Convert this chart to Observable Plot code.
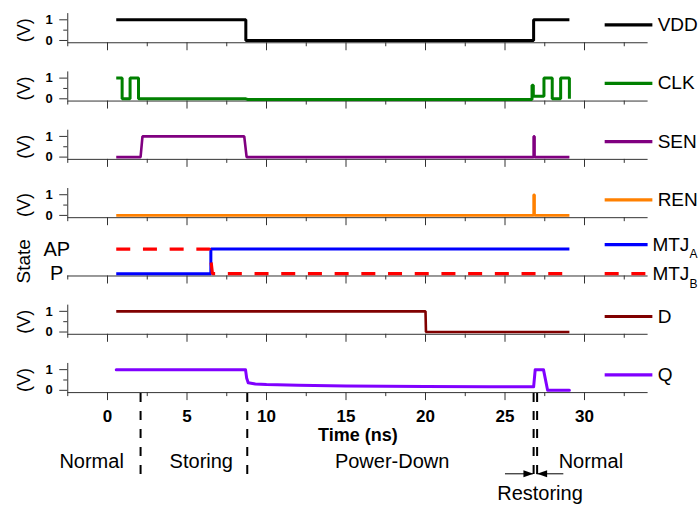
<!DOCTYPE html>
<html><head><meta charset="utf-8">
<script src="https://cdn.jsdelivr.net/npm/d3@7"></script>
<script src="https://cdn.jsdelivr.net/npm/@observablehq/plot@0.6"></script>
<style>
body{margin:0;background:#fff}
#chart{position:relative;width:700px;height:507px}
#chart svg{position:absolute;left:0}
</style>
</head><body><div id="chart"></div>
<script>
// ---------------- data ----------------
const panels = ["VDD", "CLK", "SEN", "REN", "State", "D", "Q"];

const vddTime = [0.55, 8.7, 8.7, 26.8, 26.8, 29.05];
const vddVolt = [1, 1, 0, 0, 1, 1];

const clkTime = [0.55, 0.92, 0.92, 1.42, 1.42, 1.95, 1.95, 8.7, 8.8, 26.7, 26.7, 26.78, 26.78, 27.45, 27.45, 27.97, 27.97, 28.5, 28.5, 29.05, 29.05];
const clkVolt = [1, 1, 0, 0, 1, 1, 0, 0, -0.03, -0.03, 0.65, 0.65, 0.12, 0.12, 1, 1, 0, 0, 1, 1, 0];

const senTime = [0.55, 2.08, 2.2, 8.6, 8.75, 26.8, 26.8, 26.86, 26.86, 29.05];
const senVolt = [0, 0, 1, 1, 0, 0, 1, 1, 0, 0];

const renTime = [0.55, 26.8, 26.8, 26.86, 26.86, 29.05];
const renVolt = [0, 0, 1, 1, 0, 0];

const mtjATime = [0.55, 6.5, 6.5, 29.05];
const mtjAState = ["P", "P", "AP", "AP"];

const mtjBTime = [0.55, 6.42, 6.6, 29.05];
const mtjBState = ["AP", "AP", "P", "P"];

const dTime = [0.55, 20.0, 20.03, 29.05];
const dVolt = [1, 1, 0, 0];

const qTime = [0.55, 8.68, 8.75, 8.85, 9.3, 10, 12, 15, 20, 24, 26.8, 26.9, 27.42, 27.68, 29.05];
const qVolt = [1, 1, 0.6, 0.37, 0.31, 0.28, 0.24, 0.21, 0.19, 0.17, 0.17, 1, 1, 0, 0];

const xMajorTicks = [0, 5, 10, 15, 20, 25, 30];
const xMinorTicks = [-2.5, 2.5, 7.5, 12.5, 17.5, 22.5, 27.5, 32.5];
const voltTicks = [0, 1];
const voltMinorTicks = [0.5];
const stateNames = ["AP", "P"];

const phaseBounds = [2.08, 8.79, 26.8, 27.02];
const phaseNames = ["Normal", "Storing", "Power-Down", "Restoring", "Normal"];
const phaseCenters = [-1.0, 5.9, 17.9, 27.2, 30.4];
const restoringArrowFrom = [25.03, 28.7];
const restoringArrowTo = [26.79, 27.02];

// ---------------- layout / style ----------------
const FONT = "'Liberation Sans', Arial, Helvetica, sans-serif";
const xDomain = [-2.5, 34];
const yDomain = [-0.11, 1.3];
const stateLevel = {P: 0, AP: 1.19};
const marginLeft = 67.25, marginRight = 52.4;
const axisColor = "#333";
const dashB = "14,12.7";

const rows = (panel, times, values, map = v => v) => times.map((t, i) => ({panel, t, v: map(values[i])}));

const signals = [
  {key: "VDD", panel: "VDD", label: "VDD", data: rows("VDD", vddTime, vddVolt), color: "#000000", width: 3},
  {key: "CLK", panel: "CLK", label: "CLK", data: rows("CLK", clkTime, clkVolt), color: "#008000", width: 3},
  {key: "SEN", panel: "SEN", label: "SEN", data: rows("SEN", senTime, senVolt), color: "#800080", width: 2.6},
  {key: "REN", panel: "REN", label: "REN", data: rows("REN", renTime, renVolt), color: "#ff8000", width: 2.6},
  {key: "MTJA", panel: "State", label: "MTJ", sub: "A", data: rows("State", mtjATime, mtjAState, s => stateLevel[s]), color: "#0000ff", width: 3},
  {key: "MTJB", panel: "State", label: "MTJ", sub: "B", data: rows("State", mtjBTime, mtjBState, s => stateLevel[s]), color: "#ff0000", width: 3.2, dash: dashB},
  {key: "D", panel: "D", label: "D", data: rows("D", dTime, dVolt), color: "#800000", width: 2.6},
  {key: "Q", panel: "Q", label: "Q", data: rows("Q", qTime, qVolt), color: "#8000ff", width: 3, round: true}
];
const legendLevel = {MTJA: 1.41, MTJB: 0};

const voltPanels = panels.filter(p => p !== "State");
const voltTickRows = voltPanels.flatMap(p => voltTicks.map(v => ({panel: p, v})));
const voltMinorRows = voltPanels.flatMap(p => voltMinorTicks.map(v => ({panel: p, v})));

const marks = [
  // per-panel bottom axis line and downward ticks
  Plot.ruleY([yDomain[0]], {stroke: axisColor, strokeWidth: 1}),
  Plot.ruleX(xMajorTicks, {x: d => d, y1: yDomain[0], y2: yDomain[0], insetBottom: -8, stroke: axisColor, strokeWidth: 1}),
  Plot.ruleX(xMinorTicks, {x: d => d, y1: yDomain[0], y2: yDomain[0], insetBottom: -4, stroke: axisColor, strokeWidth: 1}),
  // voltage y axes
  Plot.ruleX(voltPanels, {x: xDomain[0], fy: d => d, stroke: axisColor, strokeWidth: 1}),
  Plot.ruleY(voltTickRows, {y: "v", fy: "panel", x1: xDomain[0], x2: xDomain[0], insetLeft: -8, stroke: axisColor}),
  Plot.ruleY(voltMinorRows, {y: "v", fy: "panel", x1: xDomain[0], x2: xDomain[0], insetLeft: -4, stroke: axisColor}),
  Plot.text(voltTickRows, {x: xDomain[0], y: "v", fy: "panel", text: d => String(d.v), dx: -15, textAnchor: "end", fontWeight: "bold", fontSize: 13, fill: "#000"}),
  Plot.text(voltPanels, {x: xDomain[0], y: 0.5, fy: d => d, text: () => "(V)", rotate: -90, dx: -43.5, fontSize: 18, fill: "#000"}),
  // state axis
  Plot.text(["State"], {x: xDomain[0], y: 0.6, fy: () => "State", text: d => d, rotate: -90, dx: -43.5, fontSize: 19, fill: "#000"}),
  Plot.text(stateNames, {x: xDomain[0], y: d => stateLevel[d], fy: () => "State", text: d => d, dx: -11, fontSize: 20, fill: "#000"})
];

// waveforms
for (const s of signals) {
  marks.push(Plot.line(s.data, {
    x: "t", y: "v", fy: "panel", stroke: s.color, strokeWidth: s.width,
    strokeDasharray: s.dash, strokeLinejoin: s.round ? "round" : "miter", strokeLinecap: s.round ? "round" : "butt"
  }));
}
// legend (right side)
for (const s of signals) {
  const level = legendLevel[s.key] ?? 0.75;
  const isSub = !!s.sub;
  marks.push(Plot.ruleY([s], {y: level, x1: 31.3, x2: isSub ? 34.0 : 34.3, fy: () => s.panel, stroke: s.color, strokeWidth: 3.2, strokeDasharray: s.dash}));
  marks.push(Plot.text([s], {x: isSub ? 34.27 : 34.6, y: level, fy: () => s.panel, text: d => d.label, textAnchor: "start", fontSize: 19, fill: "#000"}));
  if (isSub) marks.push(Plot.text([s], {x: 34.27, y: level, fy: () => s.panel, text: d => d.sub, textAnchor: "start", dx: 37, dy: 10, fontSize: 12, fill: "#000"}));
}

const main = Plot.plot({
  width: 700, height: 507,
  marginTop: 13.1, marginBottom: 114.9, marginLeft, marginRight,
  x: {domain: xDomain, axis: null},
  y: {domain: yDomain, axis: null},
  fy: {domain: panels, axis: null, paddingInner: 0.5, paddingOuter: 0, round: false},
  style: {fontFamily: FONT, background: "white", overflow: "visible"},
  marks
});
main.style.top = "0px";
document.getElementById("chart").appendChild(main);

// ---------------- bottom annotations (time axis labels and phases) ----------------
const phases = phaseNames.map((name, i) => ({name, t: phaseCenters[i]}));
const arrowHead = {draw(ctx) { ctx.moveTo(0, 0); ctx.lineTo(-10, -3.5); ctx.lineTo(-10, 3.5); ctx.closePath(); }};
const arrows = restoringArrowFrom.map((from, i) => ({from, to: restoringArrowTo[i], dir: restoringArrowTo[i] > from ? 0 : 180}));

const bottom = Plot.plot({
  width: 700, height: 127,
  marginTop: 13, marginBottom: 30, marginLeft, marginRight,
  x: {domain: xDomain, axis: null},
  style: {fontFamily: FONT, background: "transparent", overflow: "visible"},
  marks: [
    Plot.ruleX(phaseBounds, {x: d => d, stroke: "#000", strokeWidth: 2, strokeDasharray: "9,9"}),
    Plot.text(xMajorTicks, {x: d => d, text: d => String(d), frameAnchor: "top", lineAnchor: "middle", dy: 23, fontWeight: "bold", fontSize: 17, fill: "#000"}),
    Plot.text(["Time (ns)"], {text: d => d, frameAnchor: "top", lineAnchor: "middle", dy: 42, fontWeight: "bold", fontSize: 18, fill: "#000"}),
    Plot.text(phases.filter(d => d.name !== "Restoring"), {x: "t", text: "name", frameAnchor: "top", lineAnchor: "middle", dy: 68, fontSize: 20, fill: "#000"}),
    Plot.text(phases.filter(d => d.name === "Restoring"), {x: "t", text: "name", frameAnchor: "top", lineAnchor: "middle", dy: 100, fontSize: 20, fill: "#000"}),
    Plot.ruleY(arrows, {y: null, x1: "from", x2: "to", dy: 38.3, stroke: "#000", strokeWidth: 1}),
    Plot.dotX(arrows, {x: "to", symbol: arrowHead, rotate: "dir", fill: "#000", stroke: null, dy: 38.3})
  ]
});
bottom.style.top = "380px";
document.getElementById("chart").appendChild(bottom);
</script>
</body></html>
